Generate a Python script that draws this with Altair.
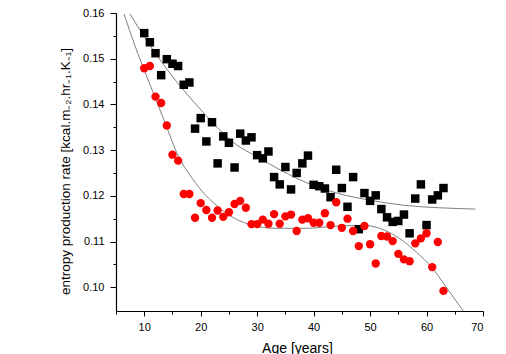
import altair as alt
import pandas as pd

# ---- data ----
ages = list(range(10, 64))
black_vals = [0.1556, 0.1536, 0.1512, 0.1464, 0.1499, 0.1489, 0.1484, 0.1443, 0.1448, 0.1347,
              0.1370, 0.1319, 0.1361, 0.1271, 0.1330, 0.1316, 0.1262, 0.1336, 0.1321, 0.1328,
              0.1289, 0.1282, 0.1297, 0.1241, 0.1225, 0.1263, 0.1214, 0.1250, 0.1271, 0.1288,
              0.1224, 0.1221, 0.1216, 0.1197, 0.1257, 0.1217, 0.1176, 0.1241, 0.1127, 0.1206,
              0.1189, 0.1201, 0.1171, 0.1153, 0.1143, 0.1145, 0.1159, 0.1118, 0.1194, 0.1225,
              0.1136, 0.1192, 0.1201, 0.1217]
red_vals = [0.1479, 0.1484, 0.1417, 0.1403, 0.1354, 0.1290, 0.1277, 0.1204, 0.1204, 0.1152,
            0.1184, 0.1169, 0.1152, 0.1168, 0.1154, 0.1164, 0.1182, 0.1189, 0.1174, 0.1138,
            0.1138, 0.1148, 0.1139, 0.1160, 0.1139, 0.1155, 0.1159, 0.1123, 0.1148, 0.1151,
            0.1141, 0.1141, 0.1162, 0.1136, 0.1186, 0.1130, 0.1150, 0.1123, 0.1090, 0.1134,
            0.1094, 0.1052, 0.1112, 0.1111, 0.1101, 0.1073, 0.1061, 0.1057, 0.1096, 0.1107,
            0.1118, 0.1044, 0.1099, 0.0992]

black_fit_age = [7.48, 8.37, 14.27, 20.2, 26.1, 30.05, 38.5, 44.4, 50.2, 56.2, 62.1, 68.65]
black_fit_val = [0.1598, 0.1580, 0.1473, 0.1386, 0.1314, 0.1285, 0.1230, 0.1205, 0.1190, 0.1179, 0.1174, 0.1171]

red_fit_age = [6.42, 8.37, 11.03, 13.69, 15.99, 18.12, 20.25, 23.09, 26.10, 29.06, 33.19, 38.51,
               44.36, 49.15, 52.52, 55.18, 58.19, 61.03, 63.33, 65.11, 66.52]
red_fit_val = [0.1598, 0.1528, 0.1443, 0.1360, 0.1288, 0.1245, 0.1210, 0.1176, 0.1150, 0.1136, 0.1129, 0.1129,
               0.1134, 0.1135, 0.1125, 0.1107, 0.1077, 0.1042, 0.1003, 0.0972, 0.0948]

x_ticks = list(range(5, 71, 5))
y_ticks = [round(0.10 + 0.005 * i, 3) for i in range(13)]

df_black = pd.DataFrame({"age": ages, "rate": black_vals})
df_red = pd.DataFrame({"age": ages, "rate": red_vals})
df_bfit = pd.DataFrame({"age": black_fit_age, "rate": black_fit_val})
df_rfit = pd.DataFrame({"age": red_fit_age, "rate": red_fit_val})

FONT = "Arial, Liberation Sans, sans-serif"
Y_MAJOR = "abs(datum.value*100 - round(datum.value*100)) < 0.01"

x_enc = alt.X(
    "age:Q",
    scale=alt.Scale(domain=[5, 70], nice=False, zero=False),
    axis=alt.Axis(
        values=x_ticks,
        title="Age [years]",
        labelExpr="datum.value % 10 === 0 ? datum.label : ''",
        tickSize={"condition": {"test": "datum.value % 10 === 0", "value": 5}, "value": 3},
        labelPadding=5,
        titleX=181,
        titleY=41,
        titleFontSize=14,
        titleBaseline="alphabetic",
        titleAlign="center",
    ),
)
y_enc = alt.Y(
    "rate:Q",
    scale=alt.Scale(domain=[0.0948, 0.16], nice=False, zero=False),
    axis=alt.Axis(
        values=y_ticks,
        title="entropy production rate [kcal.m\u208b\u2082.hr\u208b\u2081.K\u208b\u2081]",
        labelExpr=Y_MAJOR + " ? format(datum.value, '.2f') : ''",
        tickSize={"condition": {"test": Y_MAJOR, "value": 6}, "value": 3},
        labelPadding=6,
        titleX=-51,
        titleY=158,
        titleFontSize=13.5,
        titleAngle=-90,
        titleAlign="center",
        titleBaseline="middle",
    ),
)

bfit = alt.Chart(df_bfit).mark_line(color="#808080", strokeWidth=1, interpolate="monotone", clip=True).encode(x=x_enc, y=y_enc)
rfit = alt.Chart(df_rfit).mark_line(color="#808080", strokeWidth=1, interpolate="monotone", clip=True).encode(x=x_enc, y=y_enc)
sq = alt.Chart(df_black).mark_square(size=72, color="#000000", opacity=1).encode(x=x_enc, y=y_enc)
ci = alt.Chart(df_red).mark_circle(size=70, color="#ff0000", opacity=1).encode(x=x_enc, y=y_enc)

chart = (
    alt.layer(bfit, rfit, sq, ci)
    .properties(
        width=367,
        height=298,
        autosize=alt.AutoSizeParams(type="none"),
        padding={"left": 116, "top": 13, "right": 23, "bottom": 43},
        background="white",
    )
    .configure_view(stroke=None)
    .configure_axis(
        grid=False,
        domainColor="#000000",
        domainWidth=1.2,
        tickColor="#000000",
        tickWidth=1,
        labelFont=FONT,
        labelFontSize=11,
        labelColor="#000000",
        titleFont=FONT,
        titleFontWeight="normal",
        titleColor="#000000",
    )
)

chart.save("out.html", embed_options={"renderer": "svg", "actions": False})
